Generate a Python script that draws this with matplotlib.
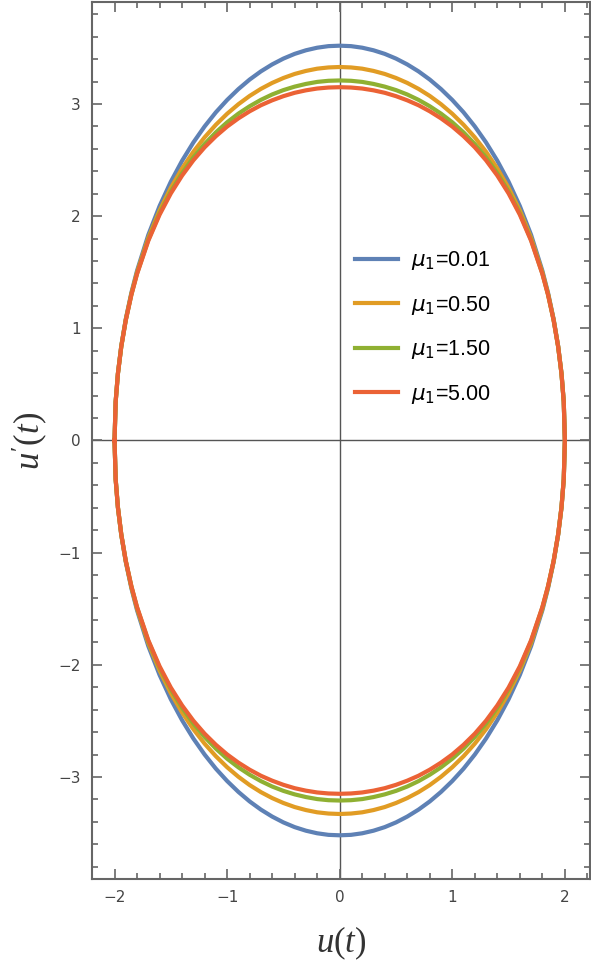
import numpy as np
import matplotlib
matplotlib.use("Agg")
import matplotlib.pyplot as plt
from matplotlib.ticker import MultipleLocator

plt.rcParams["mathtext.fontset"] = "custom"
plt.rcParams["mathtext.it"] = "Liberation Serif:italic"
plt.rcParams["mathtext.rm"] = "Liberation Serif"

# upper-right quarter of each orbit (u >= 0, u' >= 0)
u_quarter = [0.0, 0.1, 0.2, 0.3, 0.4, 0.5, 0.6, 0.7, 0.8, 0.9, 1.0, 1.1, 1.2,
             1.3, 1.4, 1.5, 1.6, 1.7, 1.8, 1.85, 1.9, 1.94, 1.97, 1.99, 2.0]
v_mu001 = [3.520, 3.516, 3.502, 3.479, 3.447, 3.405, 3.353, 3.291, 3.218, 3.133,
           3.036, 2.926, 2.800, 2.657, 2.494, 2.307, 2.090, 1.833, 1.514, 1.319,
           1.083, 0.843, 0.598, 0.346, 0.0]
v_mu050 = [3.330, 3.326, 3.315, 3.295, 3.268, 3.232, 3.188, 3.135, 3.072, 2.998,
           2.913, 2.815, 2.703, 2.574, 2.425, 2.253, 2.050, 1.806, 1.499, 1.309,
           1.078, 0.840, 0.597, 0.346, 0.0]
v_mu150 = [3.210, 3.207, 3.197, 3.179, 3.155, 3.124, 3.085, 3.037, 2.980, 2.914,
           2.837, 2.747, 2.643, 2.523, 2.383, 2.219, 2.025, 1.789, 1.490, 1.303,
           1.074, 0.839, 0.596, 0.346, 0.0]
v_mu500 = [3.150, 3.147, 3.138, 3.122, 3.100, 3.070, 3.033, 2.989, 2.935, 2.872,
           2.799, 2.713, 2.614, 2.498, 2.362, 2.203, 2.013, 1.781, 1.485, 1.300,
           1.073, 0.838, 0.596, 0.346, 0.0]

labels = [r"$\mu_1$=0.01", r"$\mu_1$=0.50", r"$\mu_1$=1.50", r"$\mu_1$=5.00"]
colors = ["#5E81B5", "#E19C24", "#8FB032", "#EB6235"]


def closed_orbit(u, v):
    # mirror the quarter into a full closed loop
    u = np.asarray(u)
    v = np.asarray(v)
    uu = np.concatenate([-u[::-1], u[1:], u[::-1][1:], -u[1:]])
    vv = np.concatenate([v[::-1], v[1:], -v[::-1][1:], -v[1:]])
    return uu, vv


fig = plt.figure(figsize=(5.91, 9.71), dpi=100)
ax = fig.add_axes([0.1557, 0.0947, 0.8420, 0.9033])

for v, lab, c in zip([v_mu001, v_mu050, v_mu150, v_mu500], labels, colors):
    uu, vv = closed_orbit(u_quarter, v)
    ax.plot(uu, vv, color=c, lw=3.0, label=lab, solid_joinstyle="round")

ax.axhline(0, color="#555555", lw=1.0, zorder=0)
ax.axvline(0, color="#555555", lw=1.0, zorder=0)

ax.set_xlim(-2.2, 2.22)
ax.set_ylim(-3.91, 3.91)

ax.xaxis.set_major_locator(MultipleLocator(1))
ax.xaxis.set_minor_locator(MultipleLocator(0.2))
ax.yaxis.set_major_locator(MultipleLocator(1))
ax.yaxis.set_minor_locator(MultipleLocator(0.2))
ax.tick_params(which="both", direction="in", top=True, right=True,
               color="#666666", width=1.2)
ax.tick_params(which="major", length=7, labelsize=11, labelcolor="#444444", pad=8)
ax.tick_params(which="minor", length=4)
for s in ax.spines.values():
    s.set_color("#666666")
    s.set_linewidth(1.5)

ax.set_xlabel(r"$u(t)$", fontsize=25, color="#333333", labelpad=14)
ax.set_ylabel(r"$u'(t)$", fontsize=25, color="#333333", labelpad=6)

leg = ax.legend(loc="center left", bbox_to_anchor=(0.49, 0.629), frameon=False,
                prop={"family": "Liberation Sans", "size": 15.5},
                handlelength=2.0, labelspacing=1.0, handletextpad=0.6)
for t in leg.get_texts():
    t.set_math_fontfamily("dejavusans")

fig.savefig("out.png", dpi=100)
